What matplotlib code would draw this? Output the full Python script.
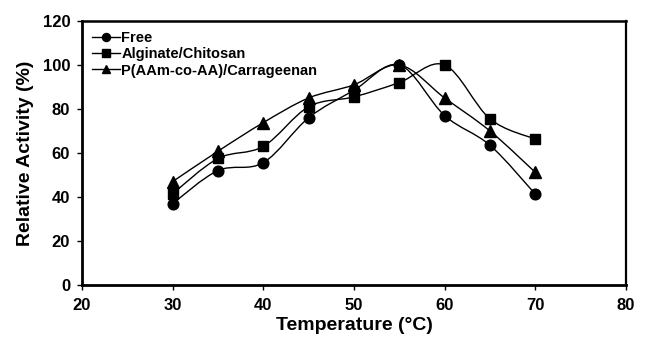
import numpy as np
import matplotlib
matplotlib.use("Agg")
import matplotlib.pyplot as plt
from matplotlib.path import Path
from matplotlib.patches import PathPatch
from matplotlib.lines import Line2D

plt.rcParams['font.family'] = ['Liberation Sans', 'DejaVu Sans']
plt.rcParams['font.weight'] = 'bold'

temperature = [30, 35, 40, 45, 50, 55, 60, 65, 70]
free = [37, 52, 55.6, 76, 88.5, 100, 77, 63.5, 41.3]
alginate = [41.5, 57.5, 63, 81, 85.5, 92, 100, 75.5, 66.3]
carrageenan = [47, 60.8, 73.8, 85, 91, 100, 85, 70, 51.2]

series = [
    ("Free", free, "o", 7.7),
    ("Alginate/Chitosan", alginate, "s", 7.2),
    ("P(AAm-co-AA)/Carrageenan", carrageenan, "^", 8.2),
]


def smooth_path(x, y):
    # catmull-rom style bezier, like a spreadsheet "smoothed line"
    pts = np.column_stack([x, y]).astype(float)
    verts = [pts[0]]
    codes = [Path.MOVETO]
    n = len(pts)
    for i in range(n - 1):
        p0 = pts[max(i - 1, 0)]
        p1 = pts[i]
        p2 = pts[i + 1]
        p3 = pts[min(i + 2, n - 1)]
        c1 = p1 + (p2 - p0) / 6.0
        c2 = p2 - (p3 - p1) / 6.0
        verts += [c1, c2, p2]
        codes += [Path.CURVE4] * 3
    return Path(verts, codes)


fig = plt.figure(figsize=(6.48, 3.42), dpi=100)
ax = fig.add_axes([0.1265, 0.1667, 0.8395, 0.772])

handles = []
for label, vals, mk, ms in series:
    ax.add_patch(PathPatch(smooth_path(temperature, vals), facecolor='none',
                           edgecolor='black', lw=1.0))
    ax.plot(temperature, vals, linestyle='none', marker=mk, color='black',
            markersize=ms)
    handles.append(Line2D([], [], color='black', lw=1.0, marker=mk,
                          markersize=ms * 0.75, label=label))

ax.set_xlim(20, 80)
ax.set_ylim(0, 120)
ax.set_xticks(range(20, 81, 10))
ax.set_yticks(range(0, 121, 20))
ax.tick_params(labelsize=12, width=1.0, length=3.5)
ax.tick_params(axis='x', pad=6)
ax.tick_params(axis='y', pad=5)
for lab in ax.get_xticklabels() + ax.get_yticklabels():
    lab.set_fontweight('bold')

ax.spines['left'].set_linewidth(2)
ax.spines['bottom'].set_linewidth(2)
ax.spines['top'].set_linewidth(1.8)
ax.spines['right'].set_linewidth(1.6)

ax.set_xlabel("Temperature (°C)", fontsize=14, fontweight='bold', labelpad=3)
ax.set_ylabel("Relative Activity (%)", fontsize=14, fontweight='bold', labelpad=6)

ax.legend(handles=handles, loc='upper left', frameon=False,
          handlelength=1.9, handletextpad=0.1, labelspacing=0.15,
          borderaxespad=0.5, borderpad=0.2,
          prop={'weight': 'bold', 'size': 10.5})

fig.savefig("out.png", dpi=100)
